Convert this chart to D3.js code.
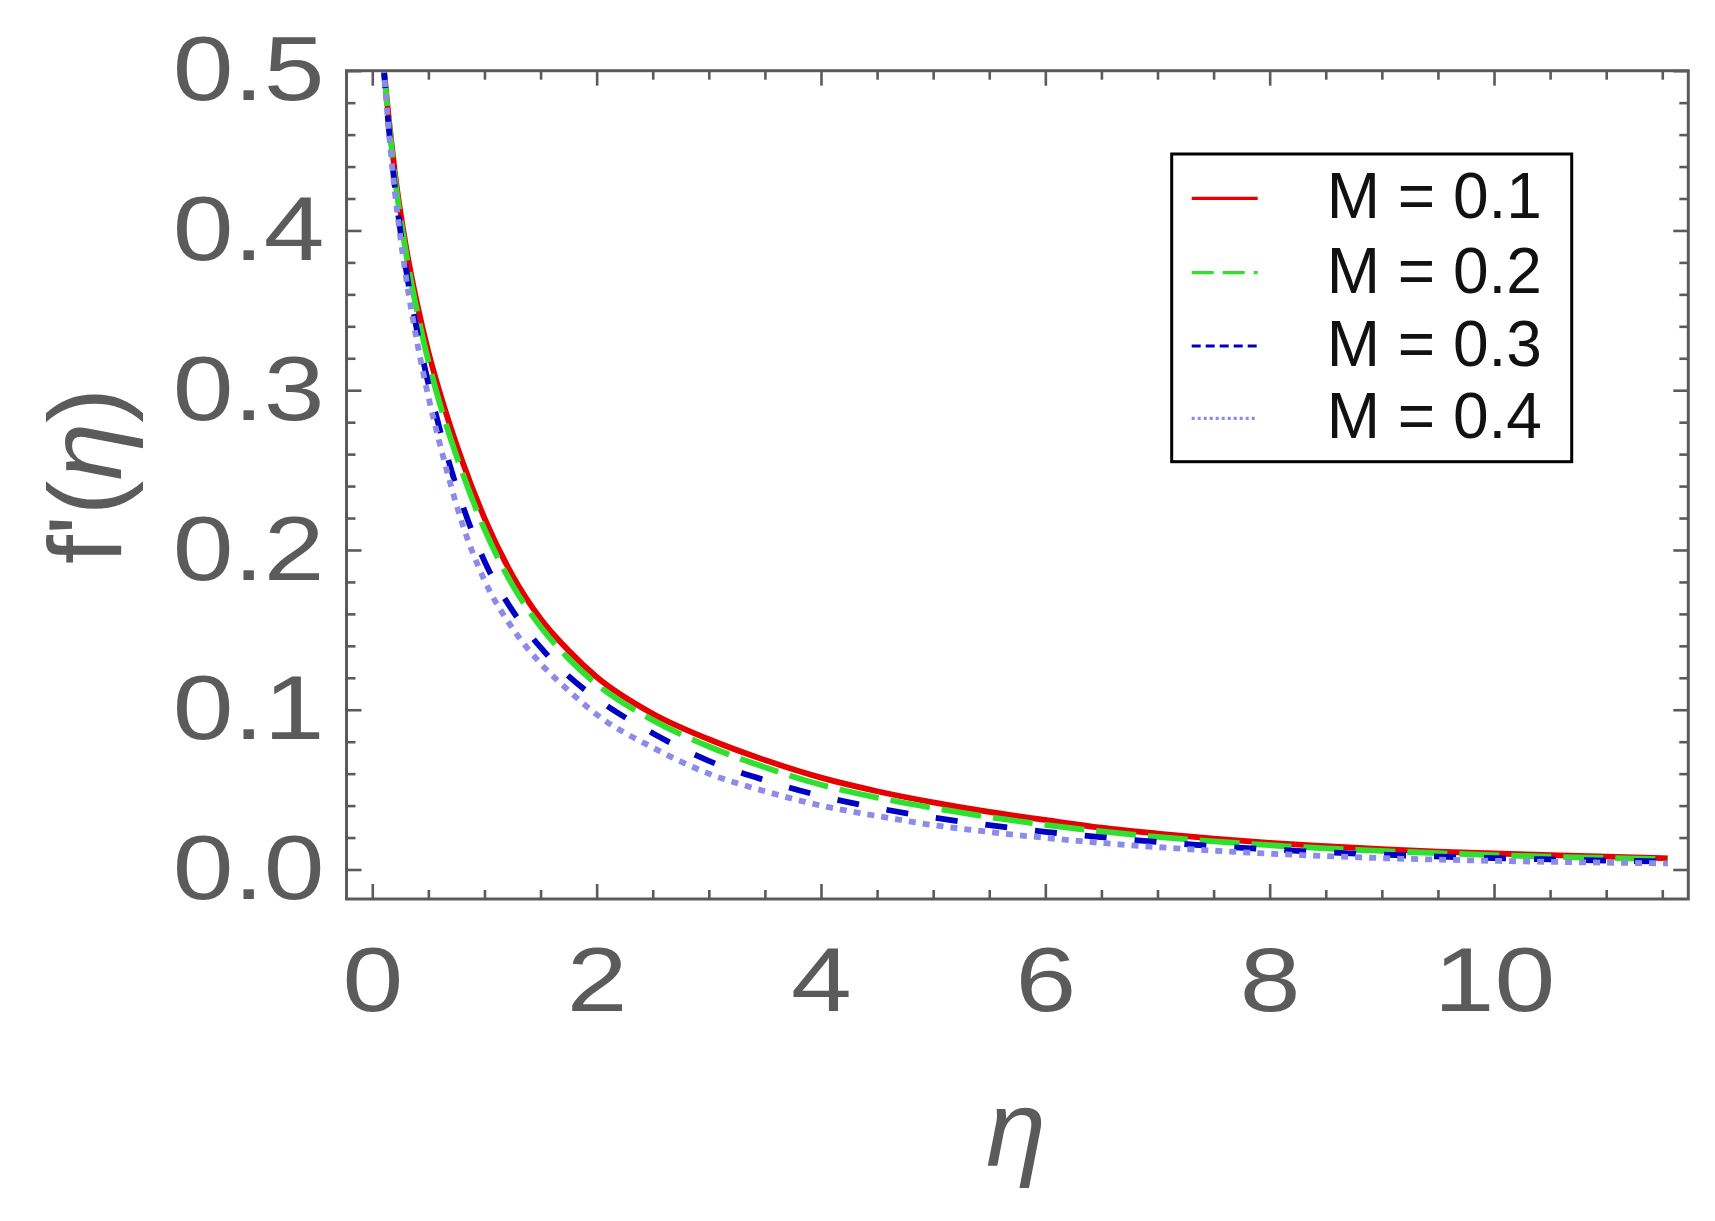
<!DOCTYPE html>
<html>
<head>
<meta charset="utf-8">
<title>f'(eta) profiles for M</title>
<script src="https://cdn.jsdelivr.net/npm/d3@7"></script>
<style>
  html, body { margin: 0; padding: 0; background: #fff; }
  svg { display: block; }
</style>
</head>
<body>
<svg class="chart"></svg>
<script>
  'use strict';
  /* values: f'(eta) for four values of M */

  var etaValues = [0.1, 0.15, 0.2, 0.3, 0.4, 0.5, 0.6, 0.8, 1.0, 1.25, 1.5, 1.75, 2.0, 2.5, 3.0, 3.5,
    4.0, 4.5, 5.0, 5.5, 6.0, 6.5, 7.0, 7.5, 8.0, 8.5, 9.0, 9.5, 10.0, 10.5, 11.0, 11.55];
  var fM01 = [0.503, 0.468, 0.437, 0.390, 0.354, 0.324, 0.299, 0.256, 0.220, 0.184, 0.157, 0.137, 0.1205, 0.0975, 0.0815, 0.0685,
    0.0575, 0.049, 0.042, 0.036, 0.031, 0.0262, 0.0225, 0.0193, 0.0167, 0.0146, 0.0127, 0.0112, 0.010, 0.009, 0.008, 0.007];
  var fM02 = [0.503, 0.466, 0.434, 0.386, 0.349, 0.318, 0.292, 0.249, 0.213, 0.178, 0.152, 0.132, 0.116, 0.0935, 0.077, 0.064,
    0.053, 0.045, 0.0385, 0.0328, 0.028, 0.0238, 0.0204, 0.0176, 0.0152, 0.0132, 0.0116, 0.0102, 0.009, 0.008, 0.0072, 0.0064];
  var fM03 = [0.503, 0.462, 0.428, 0.376, 0.337, 0.304, 0.276, 0.229, 0.193, 0.162, 0.139, 0.121, 0.107, 0.0853, 0.068, 0.0559,
    0.046, 0.0385, 0.0325, 0.0278, 0.0236, 0.0202, 0.0172, 0.0147, 0.0126, 0.0108, 0.0093, 0.0081, 0.0071, 0.0063, 0.0056, 0.0050];
  var fM04 = [0.503, 0.460, 0.425, 0.371, 0.330, 0.296, 0.267, 0.217, 0.181, 0.151, 0.129, 0.112, 0.097, 0.0763, 0.060, 0.049,
    0.040, 0.0335, 0.0278, 0.0235, 0.0198, 0.0166, 0.014, 0.0118, 0.0099, 0.0084, 0.0071, 0.0062, 0.0054, 0.0048, 0.0043, 0.0038];

  var seriesNames = ['M = 0.1', 'M = 0.2', 'M = 0.3', 'M = 0.4'];
  var xTickLabels = [0, 2, 4, 6, 8, 10];
  var yTickLabels = [0.0, 0.1, 0.2, 0.3, 0.4, 0.5];

  function init () {
    draw();
  }

  function draw () {
    // plot frame, in page pixels
    var margin = {
      top: 70.7,
      left: 346.5
    };
    var width = 1688.3 - margin.left;
    var height = 899 - margin.top;
    var grey = '#5b5b5b';
    var font = 'Liberation Sans, Arial, Helvetica, sans-serif';

    var styles = [
      { color: '#e60000', dash: null, legendDash: null },
      { color: '#2fe02f', dash: '40,12', legendDash: '22,9' },
      { color: '#0000c4', dash: '22,28', legendDash: '9,5' },
      { color: '#8c8ce8', dash: '7,7', legendDash: '3,3' }
    ];

    var svg = d3.select('.chart')
      .attr('width', 1715)
      .attr('height', 1221);

    var x = d3.scaleLinear()
      .domain([-0.23, 11.732])
      .range([0, width]);

    var y = d3.scaleLinear()
      .domain([-0.01847, 0.5])
      .range([height, 0]);

    var g = svg.append('g')
      .attr('transform', 'translate(' + margin.left + ',' + margin.top + ')');

    g.append('clipPath')
      .attr('id', 'plot-clip')
      .append('rect')
      .attr('width', width)
      .attr('height', height);

    var series = [fM01, fM02, fM03, fM04].map(function (vals, i) {
      return {
        name: seriesNames[i],
        points: etaValues.map(function (e, j) { return [e, vals[j]]; })
      };
    });

    var line = d3.line()
      .x(function (d) { return x(d[0]); })
      .y(function (d) { return y(d[1]); })
      .curve(d3.curveMonotoneX);

    g.append('g')
      .attr('clip-path', 'url(#plot-clip)')
      .selectAll('path')
      .data(series)
      .enter()
      .append('path')
      .attr('d', function (d) { return line(d.points); })
      .attr('fill', 'none')
      .attr('stroke', function (d, i) { return styles[i].color; })
      .attr('stroke-width', 5.8)
      .attr('stroke-dasharray', function (d, i) { return styles[i].dash; });

    // minor ticks on every side
    var xMinor = d3.range(0, 11.6, 0.5).filter(function (v) { return v % 2 !== 0; });
    var yMinor = d3.range(1, 25).map(function (k) { return k * 0.02; })
      .filter(function (v) { return Math.abs(v * 10 - Math.round(v * 10)) > 1e-6; });

    function tickAxis (axis, values, size, transform) {
      var a = g.append('g')
        .attr('transform', transform)
        .call(axis.tickValues(values).tickSize(-size).tickFormat(''));
      a.select('.domain').remove();
      a.selectAll('line').attr('stroke', grey).attr('stroke-width', 2.6);
      return a;
    }

    tickAxis(d3.axisBottom(x), xMinor, 9, 'translate(0,' + height + ')');
    tickAxis(d3.axisTop(x), xMinor, 9, 'translate(0,0)');
    tickAxis(d3.axisLeft(y), yMinor, 9, 'translate(0,0)');
    tickAxis(d3.axisRight(y), yMinor, 9, 'translate(' + width + ',0)');
    tickAxis(d3.axisTop(x), xTickLabels, 15, 'translate(0,0)');
    tickAxis(d3.axisRight(y), yTickLabels, 15, 'translate(' + width + ',0)');

    // labelled axes
    var xAxis = g.append('g')
      .attr('transform', 'translate(0,' + height + ')')
      .call(d3.axisBottom(x).tickValues(xTickLabels).tickSize(-15).tickPadding(47)
        .tickFormat(d3.format('d')));
    xAxis.select('.domain').remove();
    xAxis.selectAll('line').attr('stroke', grey).attr('stroke-width', 2.6);
    xAxis.attr('font-size', 91).attr('font-family', font);
    xAxis.selectAll('text')
      .attr('fill', grey)
      .attr('transform', 'scale(1.2,1)');

    var yAxis = g.append('g')
      .call(d3.axisLeft(y).tickValues(yTickLabels).tickSize(-15)
        .tickFormat(d3.format('.1f')));
    yAxis.select('.domain').remove();
    yAxis.selectAll('line').attr('stroke', grey).attr('stroke-width', 2.6);
    yAxis.attr('font-size', 91).attr('font-family', font);
    yAxis.selectAll('text')
      .attr('fill', grey)
      .attr('x', 0)
      .attr('transform', 'translate(-22,0) scale(1.2,1)');

    // frame
    g.append('rect')
      .attr('width', width)
      .attr('height', height)
      .attr('fill', 'none')
      .attr('stroke', grey)
      .attr('stroke-width', 3);

    // axis titles
    svg.append('text')
      .attr('x', 1016)
      .attr('y', 1166)
      .attr('text-anchor', 'middle')
      .attr('font-family', font)
      .attr('font-style', 'italic')
      .attr('font-size', 108)
      .attr('fill', grey)
      .text('η');

    var yTitle = svg.append('text')
      .attr('transform', 'translate(121,476) rotate(-90)')
      .attr('text-anchor', 'middle')
      .attr('font-family', font)
      .attr('font-size', 104)
      .attr('fill', grey);
    yTitle.append('tspan').text('f\'(');
    yTitle.append('tspan').attr('font-style', 'italic').text('η');
    yTitle.append('tspan').text(')');

    // legend
    var legend = svg.append('g')
      .attr('transform', 'translate(1171.7,154)');

    legend.append('rect')
      .attr('width', 400)
      .attr('height', 307.7)
      .attr('fill', '#fff')
      .attr('stroke', '#000')
      .attr('stroke-width', 3);

    var rowY = [44.3, 118.7, 192, 264.3];
    var rows = legend.selectAll('.row')
      .data(series)
      .enter()
      .append('g')
      .attr('class', 'row')
      .attr('transform', function (d, i) { return 'translate(0,' + rowY[i] + ')'; });

    rows.append('line')
      .attr('x1', 20)
      .attr('x2', 86)
      .attr('stroke', function (d, i) { return styles[i].color; })
      .attr('stroke-width', 3.2)
      .attr('stroke-dasharray', function (d, i) { return styles[i].legendDash; });

    rows.append('text')
      .attr('x', 155)
      .attr('y', 20)
      .attr('font-family', font)
      .attr('font-size', 64)
      .attr('fill', '#111')
      .text(function (d) { return d.name; });
  }

  window.addEventListener('load', init);
</script>
</body>
</html>
